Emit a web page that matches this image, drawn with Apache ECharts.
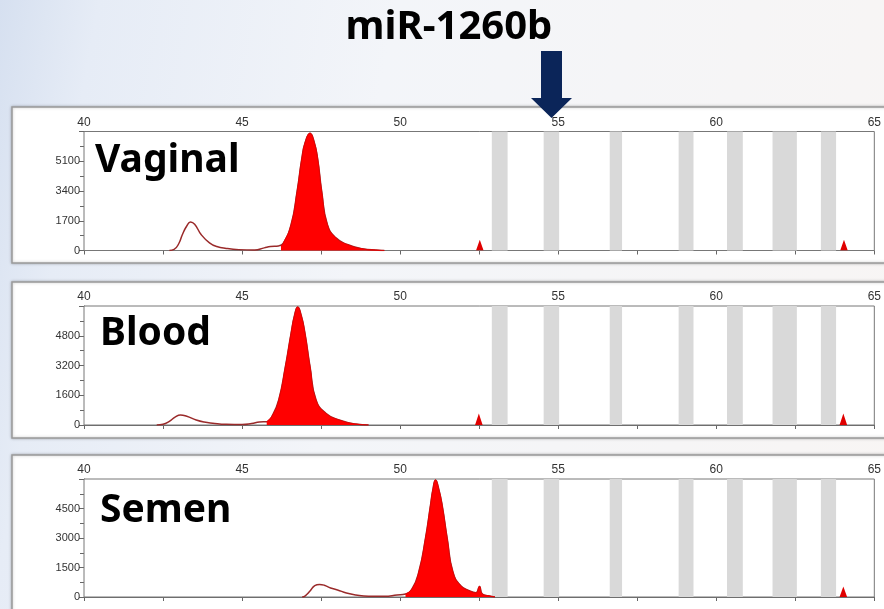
<!DOCTYPE html>
<html><head><meta charset="utf-8">
<script src="https://cdn.jsdelivr.net/npm/echarts@6/dist/echarts.min.js"></script>
<style>
html,body{margin:0;padding:0;}
body{background:linear-gradient(100deg,#d6e0f0 0%,#e6ecf6 10%,#f3f5f9 40%,#f8f5f4 100%);}
#c{width:884px;height:609px;}
</style>
</head><body><div id="c"></div>
<script>
const chartTitle = 'miR-1260b';
const panelNames = ['Vaginal', 'Blood', 'Semen'];
const xMin = 40, xMax = 65, xStep = 5;
const yMax = [6800, 6400, 6000];
const yStep = [1700, 1600, 1500];
// grey bins (temperature ranges)
const bands = [[52.90, 53.40], [54.54, 55.03], [56.63, 57.02], [58.81, 59.28], [60.34, 60.84], [61.78, 62.55], [63.31, 63.79]];

// Vaginal
const vaginalCurve = [[42.7,0],[42.85,60],[43.0,400],[43.11,900],[43.25,1400],[43.37,1630],[43.5,1500],[43.71,900],[43.97,440],[44.2,230],[44.5,120],[44.9,50],[45.4,30],[45.7,150],[45.9,230],[46.15,260],[46.3,400],[46.55,1470],[46.74,3360],[46.89,5250],[47.0,6200],[47.15,6700],[47.28,6200],[47.39,5250],[47.52,3360],[47.7,1470],[47.97,720],[48.33,340],[48.8,100],[49.3,20],[49.5,0]];
const vaginalPeak = [[46.23,260],[46.3,400],[46.55,1470],[46.74,3360],[46.89,5250],[47.0,6200],[47.15,6700],[47.28,6200],[47.39,5250],[47.52,3360],[47.7,1470],[47.97,720],[48.33,340],[48.8,100],[49.3,20],[49.5,0]];
const vaginalSpikes = [[52.4,0],[52.52,620],[52.64,0],[63.92,0],[64.04,620],[64.16,0]];

// Blood
const bloodCurve = [[42.3,0],[42.5,40],[42.7,200],[42.88,420],[43.05,540],[43.25,470],[43.55,270],[43.8,160],[44.07,100],[44.5,40],[45.0,30],[45.3,80],[45.55,160],[45.78,180],[45.97,540],[46.16,1345],[46.37,3135],[46.55,4930],[46.66,5900],[46.76,6350],[46.87,5900],[46.99,4930],[47.15,3135],[47.34,1345],[47.65,630],[48.07,270],[48.6,50],[49.0,0]];
const bloodPeak = [[45.78,180],[45.97,540],[46.16,1345],[46.37,3135],[46.55,4930],[46.66,5900],[46.76,6350],[46.87,5900],[46.99,4930],[47.15,3135],[47.34,1345],[47.65,630],[48.07,270],[48.6,50],[49.0,0]];
const bloodSpikes = [[52.37,0],[52.49,620],[52.61,0],[63.9,0],[64.02,620],[64.14,0]];

// Semen
const semenCurve = [[46.9,0],[47.0,60],[47.15,300],[47.3,580],[47.45,640],[47.6,600],[47.8,460],[48.02,360],[48.3,200],[48.6,100],[49.0,40],[49.5,40],[49.9,100],[50.17,150],[50.38,420],[50.59,1270],[50.8,2965],[50.96,4660],[51.04,5500],[51.12,5950],[51.22,5500],[51.33,4660],[51.49,2965],[51.67,1270],[51.91,590],[52.22,290],[52.4,210],[52.51,540],[52.6,150],[52.8,60],[53.0,0]];
const semenPeak = [[50.17,150],[50.38,420],[50.59,1270],[50.8,2965],[50.96,4660],[51.04,5500],[51.12,5950],[51.22,5500],[51.33,4660],[51.49,2965],[51.67,1270],[51.91,590],[52.22,290],[52.4,210],[52.51,540],[52.6,150],[52.8,60],[53.0,0]];
const semenSpikes = [[63.9,0],[64.02,540],[64.14,0]];

const curves = [vaginalCurve, bloodCurve, semenCurve];
const peaks = [vaginalPeak, bloodPeak, semenPeak];
const spikes = [vaginalSpikes, bloodSpikes, semenSpikes];

const gridPos = [{top: 131.5, height: 119}, {top: 306, height: 119}, {top: 479, height: 118}];
const boxPos = [{y: 107, h: 156}, {y: 282, h: 156}, {y: 455, h: 170}];
const labelPos = [{x: 95, y: 161}, {x: 100, y: 334}, {x: 100, y: 511}];

const chart = echarts.init(document.getElementById('c'), null, {renderer: 'canvas'});
const font = '"Liberation Sans", Arial, sans-serif';

const grids = [], xAxes = [], yAxes = [], series = [], graphics = [];
for (let i = 0; i < 3; i++) {
  grids.push({left: 84, right: 7, top: gridPos[i].top, height: gridPos[i].height,
    show: true, backgroundColor: '#fff', borderColor: '#777', borderWidth: 1, z: 1});
  xAxes.push({type: 'value', gridIndex: i, position: 'top', min: xMin, max: xMax, interval: xStep,
    axisLine: {show: true, lineStyle: {color: '#666', width: 1}},
    axisTick: {show: true, inside: true, length: 4, lineStyle: {color: '#666'}},
    minorTick: {show: true, splitNumber: 2, length: 4, lineStyle: {color: '#666'}},
    splitLine: {show: false},
    axisLabel: {fontSize: 12, color: '#333', fontFamily: font, margin: 3, formatter: v => String(v)}});
  yAxes.push({type: 'value', gridIndex: i, min: 0, max: yMax[i], interval: yStep[i],
    axisLine: {show: true, lineStyle: {color: '#666', width: 1}},
    axisTick: {show: true, length: 5, lineStyle: {color: '#666'}},
    minorTick: {show: true, splitNumber: 2, length: 4, lineStyle: {color: '#666'}},
    splitLine: {show: false},
    axisLabel: {fontSize: 11, color: '#333', fontFamily: font, margin: 4, showMaxLabel: false, formatter: v => String(v)}});
  // bands
  series.push({type: 'line', xAxisIndex: i, yAxisIndex: i, data: [], z: 2, silent: true,
    markArea: {silent: true, itemStyle: {color: '#d9d9d9', opacity: 1},
      data: bands.map(b => [{xAxis: b[0]}, {xAxis: b[1]}])}});
  // outline curve (under fill)
  series.push({type: 'line', xAxisIndex: i, yAxisIndex: i, data: curves[i], z: 3, symbol: 'none',
    smooth: 0.5, lineStyle: {color: '#9a2a2a', width: 1.5}});
  // filled peak
  series.push({type: 'line', xAxisIndex: i, yAxisIndex: i, data: peaks[i], z: 4, symbol: 'none',
    smooth: 0.5, lineStyle: {color: '#e80000', width: 1},
    areaStyle: {color: '#ff0000', opacity: 1}});
  // spikes
  series.push({type: 'line', xAxisIndex: i, yAxisIndex: i, data: spikes[i], z: 4, symbol: 'none',
    lineStyle: {width: 0}, areaStyle: {color: '#e00000', opacity: 1}});

  graphics.push({type: 'rect', z: -1, shape: {x: 12, y: boxPos[i].y, width: 890, height: boxPos[i].h},
    style: {fill: '#fff', stroke: '#9a9a9a', lineWidth: 1.5, shadowBlur: 3, shadowColor: 'rgba(0,0,0,0.25)'}});
  graphics.push({type: 'text', z: 100, x: labelPos[i].x, y: labelPos[i].y,
    style: {text: panelNames[i], font: 'bold 39px "Noto Sans"', fill: '#000', textAlign: 'left', verticalAlign: 'middle', textVerticalAlign: 'middle'}});
}
graphics.push({type: 'text', z: 100, x: 449, y: 28,
  style: {text: chartTitle, font: 'bold 40px "Noto Sans"', fill: '#000', textAlign: 'center', verticalAlign: 'middle', textVerticalAlign: 'middle'}});
graphics.push({type: 'polygon', z: 100,
  shape: {points: [[541, 51], [562, 51], [562, 98], [572, 98], [551.5, 118], [531, 98], [541, 98]]},
  style: {fill: '#0b2559'}});

chart.setOption({
  backgroundColor: 'transparent',
  animation: false,
  grid: grids, xAxis: xAxes, yAxis: yAxes, series: series, graphic: graphics
});
</script>
</body></html>
